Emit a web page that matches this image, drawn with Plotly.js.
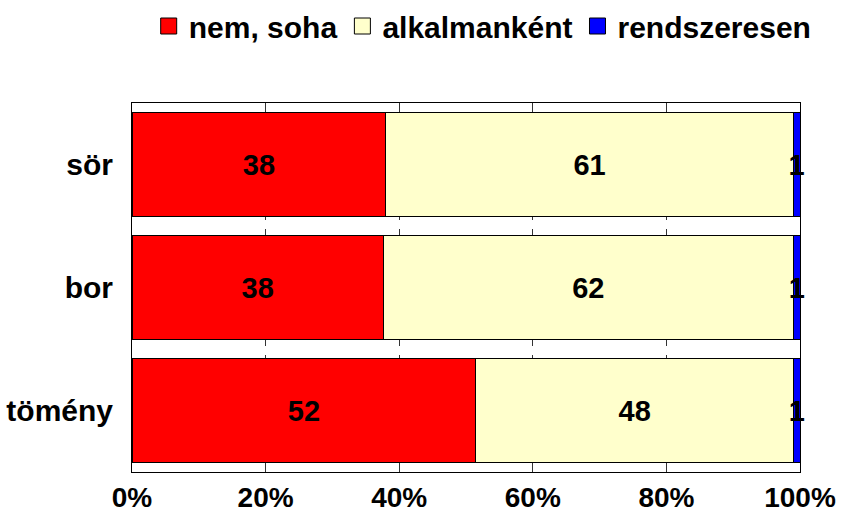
<!DOCTYPE html>
<html>
<head>
<meta charset="utf-8">
<script src="https://cdn.plot.ly/plotly-3.0.1.min.js"></script>
<style>html,body{margin:0;padding:0;background:#fff;}#chart{width:841px;height:513px;}</style>
</head>
<body>
<div id="chart"></div>
<script>
const categories = ["sör", "bor", "tömény"];
const seriesNames = ["nem, soha", "alkalmanként", "rendszeresen"];
const nemSoha = [38, 38, 52];
const alkalmankent = [61, 62, 48];
const rendszeresen = [1, 1, 1];
const xTickVals = [0, 20, 40, 60, 80, 100];
const xTickText = ["0%", "20%", "40%", "60%", "80%", "100%"];

const colors = ["#FF0000", "#FFFFCC", "#0000FF"];
const FONT = "Liberation Sans, Arial, sans-serif";
const seriesValues = [nemSoha, alkalmankent, rendszeresen];

const traces = seriesValues.map((vals, i) => ({
  type: "bar",
  orientation: "h",
  name: seriesNames[i],
  y: categories,
  x: vals,
  text: vals.map(String),
  texttemplate: "%{text}",
  textposition: "inside",
  insidetextanchor: "middle",
  constraintext: "none",
  cliponaxis: false,
  showlegend: false,
  textfont: {family: FONT, size: 29, weight: 700, color: "#000000"},
  marker: {color: colors[i], line: {color: "#000000", width: 1}},
  hoverinfo: "skip"
}));

// legend entries with larger square swatches
const legendTraces = seriesNames.map((n, i) => ({
  type: "scatter",
  mode: "markers",
  name: n,
  x: [null],
  y: [null],
  marker: {symbol: "square", size: 20, color: colors[i], line: {color: "#000000", width: 1}},
  showlegend: true,
  hoverinfo: "skip"
}));

const layout = {
  width: 841,
  height: 513,
  margin: {l: 132, r: 41, t: 103, b: 41},
  paper_bgcolor: "#ffffff",
  plot_bgcolor: "#ffffff",
  barmode: "stack",
  barnorm: "percent",
  bargap: 0.155,
  font: {family: FONT, size: 28, weight: 700, color: "#000000"},
  showlegend: true,
  legend: {
    orientation: "h",
    x: 0.525, xanchor: "center",
    yref: "container", y: 1.0, yanchor: "top",
    font: {family: FONT, size: 30, weight: 700, color: "#000000"},
    itemwidth: 30,
    itemsizing: "trace",
    traceorder: "normal"
  },
  xaxis: {
    range: [0, 100],
    tickvals: xTickVals,
    ticktext: xTickText,
    showgrid: true,
    gridcolor: "#333333",
    griddash: "dash",
    gridwidth: 1,
    showline: true,
    linecolor: "#000000",
    linewidth: 1,
    mirror: true,
    ticks: "",
    zeroline: false,
    tickfont: {family: FONT, size: 28, weight: 700, color: "#000000"}
  },
  yaxis: {
    type: "category",
    autorange: "reversed",
    showgrid: false,
    showline: true,
    linecolor: "#000000",
    linewidth: 1,
    mirror: true,
    ticks: "",
    ticklabelstandoff: 12,
    tickfont: {family: FONT, size: 30, weight: 700, color: "#000000"}
  }
};

Plotly.newPlot("chart", traces.concat(legendTraces), layout, {displayModeBar: false, staticPlot: true});
</script>
</body>
</html>
